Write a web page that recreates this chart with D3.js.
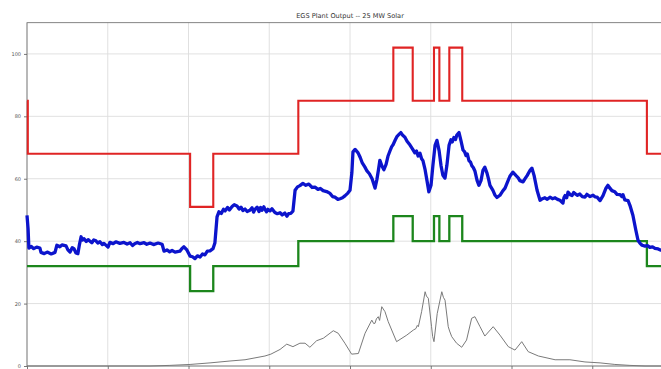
<!DOCTYPE html>
<html>
<head>
<meta charset="utf-8">
<script src="https://cdn.jsdelivr.net/npm/d3@7"></script>
<style>
  html, body { margin: 0; padding: 0; background: #fff; }
  svg { display: block; }
  text { font-family: "DejaVu Sans", sans-serif; }
</style>
</head>
<body>
<svg id="chart" width="661" height="369"></svg>
<script>
// Hour-of-day axis ticks and power-axis ticks
const hourTicks = [0, 3, 6, 9, 12, 15, 18, 21, 24];
const mwTicks = [0, 20, 40, 60, 80, 100];
const chartTitle = "EGS Plant Output -- 25 MW Solar";

// Step schedule (hour where the level starts, MW)
const redSteps = [
  [0.00, 85], [0.03, 68], [6.06, 51], [6.92, 68], [10.08, 85],
  [13.61, 102], [14.33, 85], [15.12, 102], [15.32, 85], [15.69, 102],
  [16.17, 85], [23.03, 68], [24.00, 68]
];
const greenSteps = [
  [0.00, 32], [6.06, 24], [6.92, 32], [10.08, 40],
  [13.61, 48], [14.33, 40], [15.12, 48], [15.32, 40], [15.69, 48],
  [16.17, 40], [23.03, 32], [24.00, 32]
];

// Plant output (hour, MW)
const plantOutput = [
  [0.00, 48.3], [0.04, 44.0], [0.07, 37.8], [0.16, 38.3], [0.25, 37.6], [0.36, 38.1],
  [0.48, 37.8], [0.52, 36.4], [0.64, 36.0], [0.75, 36.5], [0.90, 35.9], [1.04, 36.4],
  [1.11, 38.7], [1.22, 38.2], [1.30, 38.8], [1.45, 38.5], [1.52, 37.2], [1.60, 36.5],
  [1.68, 37.9], [1.75, 37.5], [1.82, 36.2], [1.89, 36.0], [1.95, 39.0], [2.01, 41.4],
  [2.06, 40.4], [2.12, 40.8], [2.20, 39.9], [2.27, 40.5], [2.34, 40.0], [2.41, 39.5],
  [2.48, 40.4], [2.56, 40.1], [2.63, 39.4], [2.71, 39.8], [2.80, 38.9], [2.86, 39.3],
  [3.01, 38.1], [3.08, 39.6], [3.20, 39.2], [3.30, 39.8], [3.45, 39.3], [3.60, 39.6],
  [3.72, 39.1], [3.83, 39.5], [3.92, 38.6], [4.00, 39.2], [4.10, 39.6], [4.20, 39.2],
  [4.35, 39.5], [4.45, 39.0], [4.57, 39.4], [4.70, 38.9], [4.87, 39.4], [5.02, 39.0],
  [5.09, 36.8], [5.20, 37.2], [5.30, 36.6], [5.39, 37.0], [5.50, 36.5], [5.68, 36.8],
  [5.75, 37.6], [5.83, 38.2], [5.94, 37.2], [6.06, 35.2], [6.15, 35.0], [6.24, 34.4],
  [6.33, 35.3], [6.43, 34.9], [6.52, 35.9], [6.61, 35.6], [6.70, 36.8], [6.80, 36.9],
  [6.91, 37.6], [6.98, 39.4], [7.06, 47.8], [7.13, 49.4], [7.22, 48.9], [7.30, 50.2],
  [7.36, 49.7], [7.45, 50.8], [7.52, 50.0], [7.62, 51.1], [7.70, 51.7], [7.80, 51.3],
  [7.88, 50.3], [7.95, 50.9], [8.02, 49.8], [8.10, 50.3], [8.18, 49.5], [8.28, 49.9],
  [8.36, 50.7], [8.42, 49.3], [8.47, 50.2], [8.55, 50.9], [8.62, 49.5], [8.68, 50.8],
  [8.73, 49.9], [8.80, 51.0], [8.84, 50.2], [8.90, 49.4], [8.95, 50.2], [9.03, 49.7],
  [9.10, 50.4], [9.21, 49.2], [9.30, 48.8], [9.40, 49.1], [9.48, 48.4], [9.58, 49.0],
  [9.66, 48.0], [9.72, 48.8], [9.80, 48.9], [9.88, 49.6], [9.96, 56.3], [10.05, 57.4],
  [10.14, 57.8], [10.25, 58.5], [10.36, 57.9], [10.47, 58.3], [10.59, 57.2], [10.70, 57.3],
  [10.81, 56.6], [10.90, 56.9], [11.00, 56.2], [11.13, 55.9], [11.26, 55.3], [11.35, 54.3],
  [11.44, 54.1], [11.55, 53.4], [11.63, 53.6], [11.72, 53.9], [11.81, 54.5], [11.92, 55.4],
  [12.00, 56.3], [12.07, 62.0], [12.11, 68.6], [12.19, 69.4], [12.30, 68.3], [12.38, 66.8],
  [12.45, 65.2], [12.55, 63.8], [12.63, 62.5], [12.72, 61.6], [12.82, 60.0], [12.93, 57.0],
  [13.00, 59.8], [13.06, 63.0], [13.11, 65.9], [13.19, 64.0], [13.26, 62.9], [13.34, 64.6],
  [13.41, 67.2], [13.48, 68.8], [13.55, 70.3], [13.60, 70.9], [13.68, 72.4], [13.75, 73.6],
  [13.82, 74.2], [13.89, 74.8], [13.96, 73.9], [14.04, 73.3], [14.12, 72.0], [14.23, 70.8],
  [14.32, 69.6], [14.41, 68.3], [14.47, 68.9], [14.53, 67.3], [14.60, 68.2], [14.66, 66.4],
  [14.71, 65.8], [14.79, 62.9], [14.86, 59.4], [14.93, 55.8], [15.01, 57.9], [15.08, 64.3],
  [15.16, 70.7], [15.23, 72.3], [15.31, 69.0], [15.38, 64.3], [15.45, 61.1], [15.53, 60.2],
  [15.60, 64.3], [15.68, 70.7], [15.75, 72.5], [15.80, 71.8], [15.86, 73.2], [15.92, 72.6],
  [15.97, 74.0], [16.05, 74.8], [16.12, 72.3], [16.20, 69.2], [16.26, 68.6], [16.31, 67.4],
  [16.36, 67.9], [16.42, 65.8], [16.48, 65.3], [16.53, 64.1], [16.58, 63.6], [16.64, 62.5],
  [16.72, 59.5], [16.79, 57.9], [16.87, 59.5], [16.94, 62.7], [17.01, 63.7], [17.09, 61.8],
  [17.15, 59.8], [17.20, 57.9], [17.31, 56.3], [17.39, 54.7], [17.46, 54.0], [17.57, 54.7],
  [17.66, 55.9], [17.76, 57.0], [17.85, 58.9], [17.94, 60.8], [18.05, 62.1], [18.17, 61.0],
  [18.25, 60.3], [18.31, 59.4], [18.43, 59.0], [18.51, 60.1], [18.58, 61.0], [18.69, 62.7],
  [18.76, 63.4], [18.84, 61.0], [18.95, 56.3], [19.06, 53.1], [19.15, 53.6], [19.24, 53.9],
  [19.33, 53.4], [19.43, 54.1], [19.52, 53.6], [19.62, 53.9], [19.71, 53.4], [19.80, 53.1],
  [19.91, 52.2], [19.95, 54.0], [19.99, 54.6], [20.05, 53.9], [20.10, 55.7], [20.18, 54.9],
  [20.25, 54.6], [20.31, 55.6], [20.36, 55.2], [20.45, 54.7], [20.54, 55.1], [20.63, 54.3],
  [20.73, 54.1], [20.80, 55.0], [20.92, 54.3], [21.03, 54.7], [21.10, 54.2], [21.18, 54.1],
  [21.25, 53.4], [21.29, 53.0], [21.40, 54.6], [21.51, 57.0], [21.58, 57.9], [21.62, 57.4],
  [21.73, 56.2], [21.84, 55.8], [21.92, 55.0], [22.03, 54.9], [22.10, 54.3], [22.14, 54.9],
  [22.21, 53.2], [22.33, 53.0], [22.40, 51.5], [22.51, 48.3], [22.62, 43.5], [22.70, 40.3],
  [22.77, 39.4], [22.85, 38.7], [22.96, 38.4], [23.05, 38.6], [23.14, 38.0], [23.24, 38.2],
  [23.33, 37.7], [23.45, 37.5], [23.55, 37.1], [23.75, 37.0], [24.00, 36.8]
];

// Solar array output (hour, MW)
const solarOutput = [
  [0.00, 0.0], [4.57, 0.0], [5.31, 0.2], [6.06, 0.5], [6.80, 1.0], [7.54, 1.6],
  [8.10, 2.0], [8.47, 2.6], [8.84, 3.2], [9.06, 3.8], [9.40, 5.3], [9.65, 7.0],
  [9.88, 6.2], [10.14, 7.3], [10.33, 7.3], [10.51, 6.0], [10.76, 8.1], [11.01, 8.9],
  [11.38, 11.3], [11.56, 10.5], [11.81, 7.3], [12.06, 3.8], [12.31, 4.0], [12.56, 10.5],
  [12.81, 14.7], [12.88, 13.6], [12.93, 13.7], [12.98, 15.1], [13.05, 15.8], [13.10, 14.6],
  [13.18, 19.0], [13.30, 17.4], [13.42, 14.2], [13.73, 7.8], [14.11, 9.9], [14.35, 11.5],
  [14.45, 12.0], [14.50, 13.0], [14.54, 12.6], [14.66, 17.4], [14.79, 23.8], [14.84, 22.4],
  [14.91, 21.7], [15.03, 12.6], [15.07, 9.5], [15.12, 7.8], [15.24, 16.8], [15.41, 23.8],
  [15.47, 22.0], [15.53, 21.1], [15.65, 12.6], [15.70, 11.2], [15.78, 9.4], [15.96, 7.3],
  [16.15, 6.0], [16.33, 8.3], [16.52, 15.3], [16.64, 15.8], [16.83, 12.6], [17.01, 9.6],
  [17.32, 12.6], [17.57, 9.9], [17.88, 6.2], [18.13, 5.1], [18.38, 7.8], [18.62, 4.6],
  [19.00, 3.2], [19.62, 2.0], [20.17, 2.0], [20.73, 1.3], [21.29, 1.0], [21.84, 0.5],
  [22.40, 0.2], [22.96, 0.0], [24.00, 0.0]
];

const svg = d3.select("#chart");
const plot = { left: 27, right: 673, top: 22.7, bottom: 366 };

const x = d3.scaleLinear().domain([0, 24]).range([plot.left, plot.right]);
const y = d3.scaleLinear().domain([0, 110]).range([plot.bottom, plot.top]);

// Grid
const grid = svg.append("g").attr("class", "grid");
grid.selectAll("line.v").data(hourTicks).join("line")
  .attr("x1", d => x(d)).attr("x2", d => x(d))
  .attr("y1", plot.top).attr("y2", plot.bottom)
  .attr("stroke", "#dcdcdc").attr("stroke-width", 0.9);
grid.selectAll("line.h").data(mwTicks).join("line")
  .attr("x1", plot.left).attr("x2", plot.right)
  .attr("y1", d => y(d)).attr("y2", d => y(d))
  .attr("stroke", "#dcdcdc").attr("stroke-width", 0.9);

// Axes
const yAxis = d3.axisLeft(y).tickValues(mwTicks).tickSize(3).tickPadding(3);
const yG = svg.append("g").attr("transform", `translate(${plot.left},0)`).call(yAxis);
yG.select(".domain").remove();
yG.selectAll(".tick line").attr("stroke", "#555").attr("stroke-width", 0.8);
yG.selectAll(".tick text").attr("font-size", 5).attr("fill", "#555")
  .attr("font-family", "DejaVu Sans, sans-serif");

// Bottom axis: tick marks only, the hour labels sit below the visible area
const xAxis = d3.axisBottom(x).tickValues(hourTicks).tickSize(3).tickFormat("");
const xG = svg.append("g").attr("transform", `translate(0,${plot.bottom})`).call(xAxis);
xG.select(".domain").remove();
xG.selectAll(".tick line").attr("stroke", "#555").attr("stroke-width", 0.8);
xG.selectAll(".tick text").remove();

// Frame
svg.append("rect")
  .attr("x", plot.left).attr("y", plot.top)
  .attr("width", plot.right - plot.left).attr("height", plot.bottom - plot.top)
  .attr("fill", "none").attr("stroke", "#666").attr("stroke-width", 0.8);

// Series
const lineSmooth = d3.line().x(d => x(d[0])).y(d => y(d[1]));
const lineStep = d3.line().x(d => x(d[0])).y(d => y(d[1])).curve(d3.curveStepAfter);

svg.append("path").datum(redSteps).attr("d", lineStep)
  .attr("fill", "none").attr("stroke", "#e02424").attr("stroke-width", 2.1);
svg.append("path").datum(greenSteps).attr("d", lineStep)
  .attr("fill", "none").attr("stroke", "#1c861c").attr("stroke-width", 2.3);
svg.append("path").datum(plantOutput).attr("d", lineSmooth)
  .attr("fill", "none").attr("stroke", "#0c14cc").attr("stroke-width", 3.3)
  .attr("stroke-linejoin", "round");
svg.append("path").datum(solarOutput).attr("d", lineSmooth)
  .attr("fill", "none").attr("stroke", "#7a7a7a").attr("stroke-width", 1)
  .attr("stroke-linejoin", "round");

// Title
svg.append("text")
  .attr("x", (plot.left + plot.right) / 2).attr("y", 17.5)
  .attr("text-anchor", "middle").attr("font-size", 6.6).attr("fill", "#333")
  .text(chartTitle);
</script>
</body>
</html>
